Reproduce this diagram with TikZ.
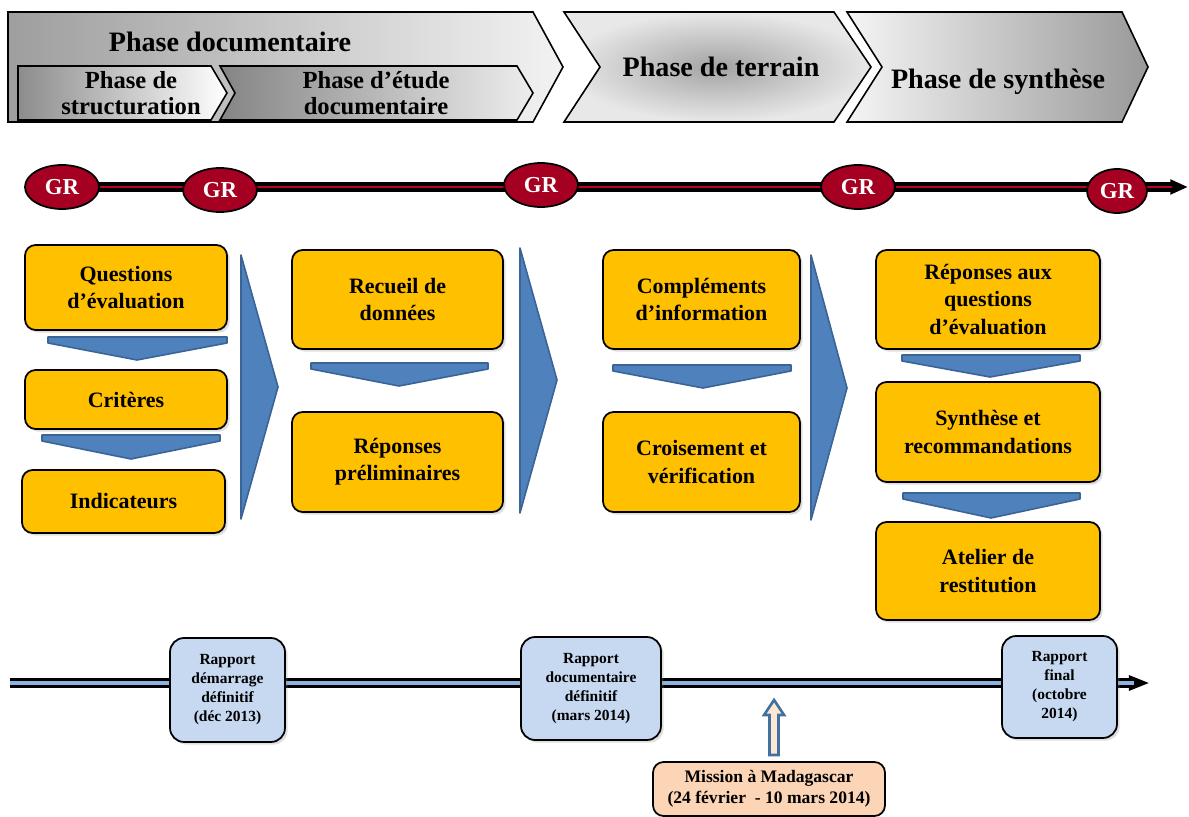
\documentclass[tikz,border=0pt]{standalone}
\usepackage{fontspec}
\setmainfont{Liberation Serif}
\usetikzlibrary{arrows.meta,shadows,shapes.geometric}
\definecolor{phaseGold}{HTML}{FFC000}
\definecolor{flowBlue}{HTML}{4F81BD}
\definecolor{flowBlueLine}{HTML}{3A6496}
\definecolor{grRed}{HTML}{A50021}
\definecolor{grStripe}{HTML}{C00025}
\definecolor{reportBlue}{HTML}{C6D9F1}
\definecolor{lineBlue}{HTML}{8DB3E2}
\definecolor{missionPeach}{HTML}{FBD5B5}
\definecolor{arrowBlue}{HTML}{41719C}
\tikzset{
    stepcard/.style={draw=black,line width=1pt,fill=phaseGold,rounded corners=6pt,
        align=center,font=\fontsize{12.5}{15.5}\selectfont\bfseries,
        drop shadow={shadow xshift=1.5pt,shadow yshift=-1.5pt,opacity=0.25}},
    reportcard/.style={draw=black,line width=1pt,fill=reportBlue,rounded corners=8pt,
        align=center,font=\fontsize{8.8}{10.8}\selectfont\bfseries,
        drop shadow={shadow xshift=1.5pt,shadow yshift=-1.5pt,opacity=0.25}},
    missioncard/.style={draw=black,line width=1pt,fill=missionPeach,rounded corners=6pt,
        align=center,font=\fontsize{10}{11.9}\selectfont\bfseries},
    grnode/.style={ellipse,draw=black,line width=1pt,fill=grRed,text=white,
        minimum height=0.88cm,inner sep=0pt,font=\fontsize{13}{13}\selectfont\bfseries},
    flowtri/.style={fill=flowBlue,draw=flowBlueLine,line width=0.9pt,line join=round},
    chevron/.style={draw=black,line width=0.9pt},
    phasetitle/.style={font=\fontsize{16}{16}\selectfont\bfseries},
    subtitle/.style={align=center,font=\fontsize{14}{14.5}\selectfont\bfseries},
    uparrow/.style={draw=arrowBlue,fill=missionPeach!60,line width=1.5pt}
}
\begin{document}
\begin{tikzpicture}[x=0.02cm,y=-0.02cm]
    \useasboundingbox (0,0) rectangle (1189,817);
    \shadedraw[chevron,left color=black!38,right color=black!5]
        (8,12) -- (533,12) -- (563,67) -- (533,122) -- (8,122) -- cycle;
    \shadedraw[chevron,left color=black!45,right color=white]
        (18,66) -- (211,66) -- (227,93) -- (211,120) -- (18,120) -- cycle;
    \shadedraw[chevron,left color=black!48,right color=black!7]
        (220,66) -- (517,66) -- (533,93) -- (517,120) -- (220,120) -- (235,93) -- cycle;
    \shadedraw[chevron,inner color=black!36,outer color=black!9]
        (564,12) -- (834,12) -- (871,67) -- (834,122) -- (564,122) -- (600,67) -- cycle;
    \shadedraw[chevron,left color=black!4,right color=black!40]
        (847,12) -- (1122,12) -- (1148,67) -- (1122,122) -- (847,122) -- (882,67) -- cycle;
    \node[phasetitle] (phDoc) at (230,42) {Phase documentaire};
    \node[subtitle] (phStruct) at (131,93) {Phase de\\structuration};
    \node[subtitle] (phEtude) at (376,93) {Phase d’étude\\documentaire};
    \node[phasetitle] (phTerrain) at (721,67) {Phase de terrain};
    \node[phasetitle] (phSynth) at (998,82) {Phase de synthèse};

    \foreach \gx/\gy/\gw/\gi in {62/187/1.48/1,220/190/1.48/2,541/185/1.48/3,858/187/1.48/4,1117/191/1.2/5} {
        \coordinate (grPos\gi) at (\gx,\gy);
    }
    \coordinate (grEnd) at (1188,187);
    \coordinate (grStripeEnd) at (1172,187);
    \draw[line width=5.5pt,-{Triangle[length=10pt,width=8pt]}] (grPos1) -- (grEnd);
    \draw[grStripe,line width=1.6pt] (grPos1) -- (grStripeEnd);
    \foreach \gx/\gy/\gw/\gi in {62/187/1.48/1,220/190/1.48/2,541/185/1.48/3,858/187/1.48/4,1117/191/1.2/5} {
        \node[grnode,minimum width=\gw cm] (gr\gi) at (\gx,\gy) {GR};
    }

    \node[stepcard,minimum width=4.04cm,minimum height=1.7cm] (evalQ) at (126,287.5) {Questions\\d’évaluation};
    \node[stepcard,minimum width=4.04cm,minimum height=1.18cm] (evalCrit) at (126,399.5) {Critères};
    \node[stepcard,minimum width=4.06cm,minimum height=1.26cm] (evalInd) at (123.5,501.5) {Indicateurs};
    \node[stepcard,minimum width=4.22cm,minimum height=1.98cm] (docRecueil) at (397.5,299.5) {Recueil de\\données};
    \node[stepcard,minimum width=4.22cm,minimum height=2.0cm] (docRep) at (397.5,462) {Réponses\\préliminaires};
    \node[stepcard,minimum width=3.94cm,minimum height=1.98cm] (terComp) at (701.5,299.5) {Compléments\\d’information};
    \node[stepcard,minimum width=3.94cm,minimum height=2.0cm] (terCrois) at (701.5,462) {Croisement et\\vérification};
    \node[stepcard,minimum width=4.48cm,minimum height=1.98cm] (synRep) at (988,299.5) {Réponses aux\\questions\\d’évaluation};
    \node[stepcard,minimum width=4.48cm,minimum height=2.0cm] (synReco) at (988,432) {Synthèse et\\recommandations};
    \node[stepcard,minimum width=4.48cm,minimum height=1.96cm] (synAtelier) at (988,571) {Atelier de\\restitution};

    \foreach \xl/\xr/\yt/\xm/\yb in {48/227/337/137/360,42/220/435/131/459,311/488/363/399/386,613/791/365/703/388,902/1080/355/990/377,903/1080/493/991/518} {
        \filldraw[flowtri] (\xl,\yt) -- (\xr,\yt) -- (\xr,\yt+6) -- (\xm,\yb) -- (\xl,\yt+6) -- cycle;
    }
    \foreach \xa/\ya/\xb/\yb/\yc in {241/255/278/387/519,520/248/557/380/513,811/255/847/388/520} {
        \filldraw[flowtri] (\xa,\ya) -- (\xb,\yb) -- (\xa,\yc) -- cycle;
    }

    \coordinate (tlStart) at (10,683);
    \coordinate (tlEnd) at (1150,683);
    \coordinate (tlStripeEnd) at (1134,683);
    \draw[line width=5.5pt,-{Triangle[length=12pt,width=8pt]}] (tlStart) -- (tlEnd);
    \draw[lineBlue,line width=2pt] (tlStart) -- (tlStripeEnd);
    \node[reportcard,minimum width=2.3cm,minimum height=2.08cm] (repStart) at (227.5,690) {Rapport\\démarrage\\définitif\\(déc 2013)};
    \node[reportcard,minimum width=2.8cm,minimum height=2.06cm] (repDoc) at (591,688.5) {Rapport\\documentaire\\définitif\\(mars 2014)};
    \node[reportcard,minimum width=2.3cm,minimum height=2.04cm] (repFinal) at (1059.5,687) {Rapport\\final\\(octobre\\2014)};

    \node[missioncard,minimum width=4.64cm,minimum height=1.08cm] (mission) at (769,789) {Mission à Madagascar\\(24 février~ - 10 mars 2014)};
    \coordinate (upTip) at (774,700);
    \filldraw[uparrow] (upTip) -- ++(10,15) -- ++(-5.5,0) -- ++(0,40) -- ++(-9,0) -- ++(0,-40) -- ++(-5.5,0) -- cycle;
\end{tikzpicture}
\end{document}
